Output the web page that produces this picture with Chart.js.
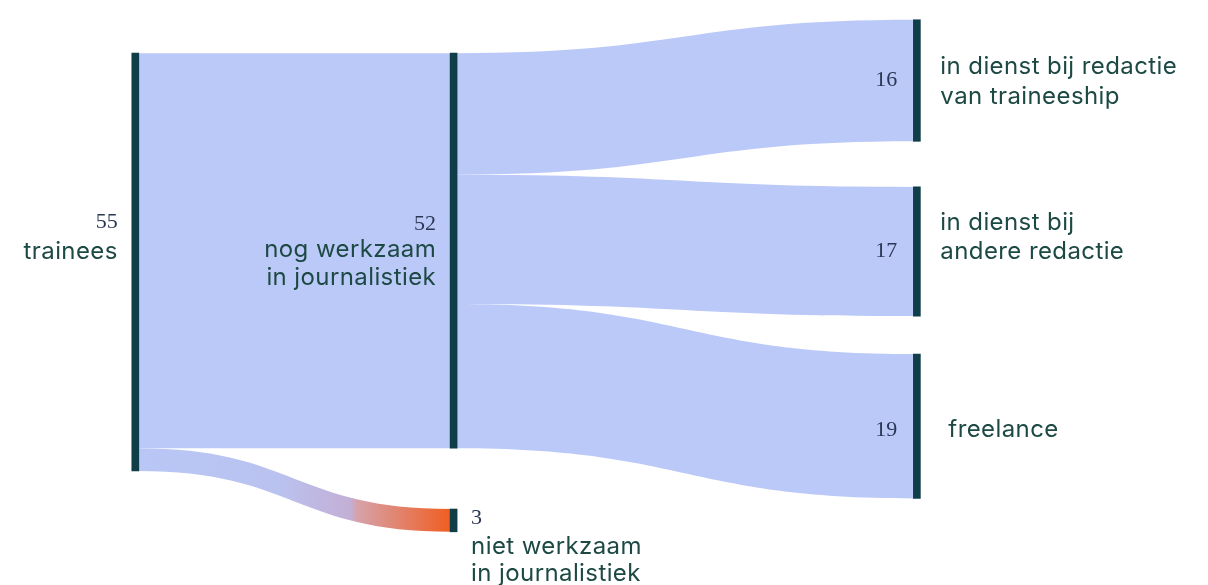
<!DOCTYPE html>
<html>
<head>
<meta charset="utf-8">
<script src="https://cdn.jsdelivr.net/npm/chart.js@4/dist/chart.umd.min.js"></script>
<style>
  html, body { margin: 0; padding: 0; background: #ffffff; }
  #wrap { width: 1208px; height: 585px; position: relative; }
</style>
</head>
<body>
<div id="wrap"><canvas id="c" width="1208" height="585"></canvas></div>
<script>
// ---- data ----
const nodeNames = [
  ['trainees'],
  ['nog werkzaam', 'in journalistiek'],
  ['niet werkzaam', 'in journalistiek'],
  ['in dienst bij redactie', 'van traineeship'],
  ['in dienst bij', 'andere redactie'],
  ['freelance']
];
const nodeValues = [55, 52, 3, 16, 17, 19];
const flowFrom = [0, 0, 1, 1, 1];
const flowTo = [1, 2, 3, 4, 5];
const flowValues = [52, 3, 16, 17, 19];

// ---- layout (not data) ----
const nodeColumn = [0, 1, 1, 2, 2, 2];
const columnX = [11.2, 37.55, 75.9];
const nodeGapBefore = [7, 7, 8, 2.6, 6, 5];
const barPx = 7;
const flowColor = '#bbc9f8';
const nodeColor = '#0f3e48';
const labelColor = '#1d4944';
const numberColor = '#2b3654';
const labelFont = '400 24px Inter, "Noto Sans", sans-serif';
const numberFont = '400 22px "Liberation Serif", "DejaVu Serif", serif';
// label placement relative to node centre (px): side, number offset, line offsets
const labelLayout = [
  { side: 'left',  dx: -14, numSide: 'left',  numDy: -40, lineDy: [-10] },
  { side: 'left',  dx: -14, numSide: 'left',  numDy: -26, lineDy: [-1, 27] },
  { side: 'right', dx: 14,  numSide: 'right', numDy: -2,  lineDy: [26, 53] },
  { side: 'right', dx: 20,  numSide: 'left',  numDy: 0,   lineDy: [-14, 16] },
  { side: 'right', dx: 20,  numSide: 'left',  numDy: 0,   lineDy: [-29, 0] },
  { side: 'right', dx: 28,  numSide: 'left',  numDy: 4,   lineDy: [4] }
];

// compute node extents (in value units) by stacking within columns
const nodeTop = [];
const colCursor = {};
nodeValues.forEach((v, i) => {
  const c = nodeColumn[i];
  const start = (colCursor[c] || 0) + nodeGapBefore[i];
  nodeTop.push(start);
  colCursor[c] = start + v;
});

// flow extents at source and target
const outCursor = nodeTop.slice();
const inCursor = nodeTop.slice();
const flowGeom = flowValues.map((v, k) => {
  const s = flowFrom[k], t = flowTo[k];
  const g = { s0: outCursor[s], s1: outCursor[s] + v, t0: inCursor[t], t1: inCursor[t] + v };
  outCursor[s] += v; inCursor[t] += v;
  return g;
});

const sankeyPlugin = {
  id: 'sankeyFlows',
  beforeDatasetsDraw(chart) {
    const { ctx, scales: { x, y } } = chart;
    ctx.save();
    flowGeom.forEach((g, k) => {
      const xs = x.getPixelForValue(columnX[nodeColumn[flowFrom[k]]]) + barPx / 2 - 1;
      const xt = x.getPixelForValue(columnX[nodeColumn[flowTo[k]]]) - barPx / 2 + 1;
      const xm = (xs + xt) / 2;
      const ys0 = y.getPixelForValue(g.s0), ys1 = y.getPixelForValue(g.s1);
      const yt0 = y.getPixelForValue(g.t0), yt1 = y.getPixelForValue(g.t1);
      ctx.beginPath();
      ctx.moveTo(xs, ys0);
      ctx.bezierCurveTo(xm, ys0, xm, yt0, xt, yt0);
      ctx.lineTo(xt, yt1);
      ctx.bezierCurveTo(xm, yt1, xm, ys1, xs, ys1);
      ctx.closePath();
      if (flowTo[k] === 2) {
        const grad = ctx.createLinearGradient(xs, 0, xt, 0);
        grad.addColorStop(0, '#b9c7f6');
        grad.addColorStop(0.45, '#bac2ef');
        grad.addColorStop(0.68, '#c3afd6');
        grad.addColorStop(0.70, '#d6a2aa');
        grad.addColorStop(1, '#f05d20');
        ctx.fillStyle = grad;
      } else {
        ctx.fillStyle = flowColor;
      }
      ctx.fill();
    });
    ctx.restore();
  },
  afterDatasetsDraw(chart) {
    const { ctx, scales: { x, y } } = chart;
    ctx.save();
    ctx.textBaseline = 'middle';
    nodeValues.forEach((v, i) => {
      const L = labelLayout[i];
      const cx = x.getPixelForValue(columnX[nodeColumn[i]]);
      const cy = y.getPixelForValue(nodeTop[i] + v / 2);
      const leftEdge = cx - barPx / 2, rightEdge = cx + barPx / 2;
      // number
      ctx.font = numberFont;
      ctx.fillStyle = numberColor;
      ctx.letterSpacing = '0px';
      if (L.numSide === 'left') {
        ctx.textAlign = 'right';
        ctx.fillText(String(v), leftEdge + (L.side === 'left' ? L.dx : -16), cy + L.numDy);
      } else {
        ctx.textAlign = 'left';
        ctx.fillText(String(v), rightEdge + L.dx, cy + L.numDy);
      }
      // name lines
      ctx.font = labelFont;
      ctx.fillStyle = labelColor;
      ctx.letterSpacing = '0.4px';
      nodeNames[i].forEach((line, j) => {
        if (L.side === 'left') {
          ctx.textAlign = 'right';
          ctx.fillText(line, leftEdge + L.dx, cy + L.lineDy[j]);
        } else {
          ctx.textAlign = 'left';
          ctx.fillText(line, rightEdge + L.dx, cy + L.lineDy[j]);
        }
      });
    });
    ctx.restore();
  }
};

new Chart(document.getElementById('c'), {
  type: 'bar',
  data: {
    datasets: [{
      label: 'nodes',
      data: nodeValues.map((v, i) => ({ x: columnX[nodeColumn[i]], y: [nodeTop[i], nodeTop[i] + v] })),
      backgroundColor: nodeColor,
      borderWidth: 0,
      borderSkipped: false,
      barThickness: barPx
    }]
  },
  options: {
    responsive: false,
    animation: false,
    layout: { padding: 0 },
    plugins: { legend: { display: false }, tooltip: { enabled: false } },
    scales: {
      x: { type: 'linear', min: 0, max: 100, offset: false, display: false },
      y: { type: 'linear', min: 0, max: 77, reverse: true, display: false }
    }
  },
  plugins: [sankeyPlugin]
});
</script>
</body>
</html>
